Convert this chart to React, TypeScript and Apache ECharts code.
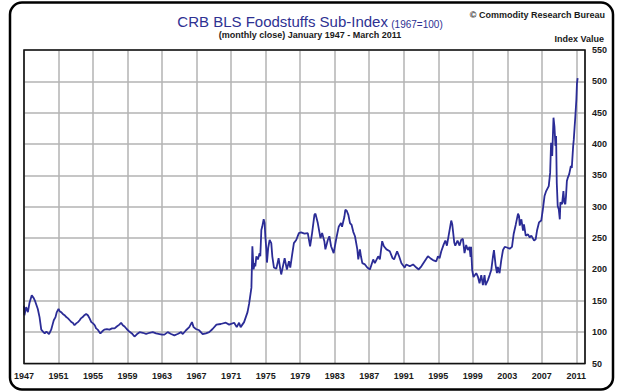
import React, { useEffect, useRef } from "react";
import * as echarts from "echarts";

// Monthly close readings (decimal year) of the CRB BLS Foodstuffs Sub-Index, 1967=100
const years = [
  1947.0, 1947.05, 1947.25, 1947.45, 1947.64, 1947.9, 1948.1, 1948.3, 1948.4, 1948.6, 1948.8,
  1949.0, 1949.2, 1949.4, 1949.6, 1949.9, 1950.15, 1950.35, 1950.45, 1950.65, 1950.8,
  1951.0, 1951.15, 1951.3, 1951.5, 1951.7, 1951.9, 1952.1, 1952.3, 1952.5, 1952.65, 1952.85,
  1953.05, 1953.25, 1953.45, 1953.6, 1953.8, 1954.0, 1954.2, 1954.4, 1954.6, 1954.8,
  1955.0, 1955.2, 1955.35, 1955.55, 1955.85, 1956.05, 1956.3, 1956.6, 1956.9,
  1957.2, 1957.5, 1957.75, 1958.05, 1958.25, 1958.45, 1958.65, 1958.9,
  1959.2, 1959.5, 1959.8, 1960.1, 1960.4, 1960.77, 1961.15, 1961.54, 1961.92,
  1962.3, 1962.7, 1963.0, 1963.27, 1963.65, 1964.04, 1964.42, 1964.8,
  1965.2, 1965.4, 1965.77, 1966.15, 1966.46, 1966.65, 1966.92, 1967.3, 1967.7,
  1968.08, 1968.46, 1968.85, 1969.3, 1969.8, 1970.38, 1970.77, 1971.35, 1971.65, 1971.92,
  1972.1, 1972.5, 1972.7, 1972.9, 1973.08, 1973.35, 1973.46, 1973.54, 1973.6, 1973.73, 1973.8, 1973.92,
  1974.1, 1974.3, 1974.38, 1974.5, 1974.6, 1974.77, 1974.88, 1974.96,
  1975.08, 1975.15, 1975.3, 1975.46, 1975.65, 1975.77, 1975.96, 1976.23, 1976.5, 1976.7, 1976.8,
  1977.0, 1977.2, 1977.46, 1977.7, 1977.85, 1978.04, 1978.27, 1978.54, 1978.85,
  1979.1, 1979.5, 1979.88, 1980.15, 1980.38, 1980.65, 1980.77, 1981.04, 1981.35, 1981.54, 1981.8, 1981.92,
  1982.2, 1982.38, 1982.58, 1982.88, 1983.15, 1983.46, 1983.73, 1983.85, 1984.12, 1984.23, 1984.38, 1984.58, 1984.77, 1984.96,
  1985.15, 1985.35, 1985.62, 1985.73, 1985.92, 1986.04, 1986.2, 1986.5, 1986.77,
  1987.08, 1987.27, 1987.46, 1987.65, 1988.04, 1988.23, 1988.5, 1988.7,
  1989.0, 1989.38, 1989.7, 1989.88, 1990.23, 1990.46, 1990.73,
  1991.1, 1991.3, 1991.7, 1992.08, 1992.46, 1992.73, 1993.04, 1993.42, 1993.8,
  1994.08, 1994.38, 1994.77, 1994.96, 1995.15, 1995.35, 1995.63, 1995.82, 1996.0, 1996.2, 1996.4, 1996.5, 1996.62, 1996.7, 1996.85, 1996.97,
  1997.23, 1997.47, 1997.65, 1997.85, 1998.04, 1998.23, 1998.43, 1998.62, 1998.74, 1998.8, 1998.93,
  1999.08, 1999.4, 1999.6, 1999.78, 1999.98, 2000.17, 2000.36, 2000.48, 2000.75, 2000.95,
  2001.14, 2001.33, 2001.45, 2001.64, 2001.8, 2001.9, 2002.1, 2002.3, 2002.5, 2002.7, 2002.96,
  2003.27, 2003.54, 2003.74, 2003.97, 2004.24, 2004.36, 2004.44, 2004.63, 2004.82, 2004.93,
  2005.13, 2005.4, 2005.6, 2005.78, 2006.1, 2006.28, 2006.44, 2006.67, 2006.93,
  2007.12, 2007.31, 2007.5, 2007.8, 2007.96, 2008.07, 2008.2, 2008.35, 2008.46, 2008.58, 2008.65, 2008.73, 2008.84, 2008.96,
  2009.08, 2009.15, 2009.34, 2009.5, 2009.6, 2009.72, 2009.8, 2009.9, 2010.0, 2010.17, 2010.36, 2010.47,
  2010.63, 2010.7, 2010.8, 2010.87, 2011.0, 2011.07, 2011.15,
];

const values = [
  142, 127, 140, 132, 147, 159, 155, 149, 145, 137, 124,
  104, 101, 98, 101, 97, 104, 114, 119, 124, 132,
  137, 133, 132, 129, 127, 124, 122, 119, 116, 115, 111,
  114, 116, 119, 122, 124, 127, 129, 127, 122, 116,
  114, 111, 106, 104, 98, 101, 104, 105, 104,
  106, 106, 109, 112, 115, 111, 109, 105,
  101, 98, 93, 97, 100, 99, 97, 99, 100,
  98, 97, 96, 96, 100, 97, 95, 97,
  100, 97, 103, 108, 116, 108, 105, 103, 97,
  98, 100, 105, 112, 113, 115, 112, 115, 108, 115,
  108, 116, 124, 132, 145, 171, 237, 215, 200, 210, 205, 221,
  216, 226, 221, 263, 268, 280, 274, 253,
  232, 211, 235, 247, 242, 221, 203, 201, 218, 200, 192,
  205, 218, 200, 213, 203, 221, 242, 247, 258,
  259, 257, 258, 237, 258, 287, 289, 274, 250, 258, 245, 232,
  247, 253, 237, 226, 247, 268, 274, 268, 284, 295, 294, 287, 274, 271,
  260, 253, 232, 216, 232, 221, 210, 208, 203,
  200, 208, 216, 210, 221, 216, 245, 237,
  232, 229, 218, 216, 229, 221, 210,
  203, 208, 205, 208, 203, 200, 205, 213, 221,
  218, 215, 213, 221, 218, 229, 240, 246, 238, 254, 270, 278, 272, 262, 243, 238,
  246, 238, 247, 249, 226, 239, 231, 236, 220, 236, 199,
  188, 194, 188, 178, 191, 175, 191, 175, 183, 191,
  199, 220, 231, 207, 194, 204, 194, 215, 231, 236, 235,
  233, 236, 257, 271, 289, 285, 270, 280, 262, 272,
  254, 256, 251, 254, 246, 248, 262, 275, 278,
  296, 317, 325, 333, 354, 402, 381, 442, 428, 397, 413, 338, 301, 296,
  280, 307, 304, 325, 307, 304, 317, 341, 346, 352, 365, 362,
  397, 407, 428, 442, 471, 497, 505,
];

const xTickYears = [1947, 1951, 1955, 1959, 1963, 1967, 1971, 1975, 1979, 1983, 1987, 1991, 1995, 1999, 2003, 2007, 2011];
const yTicks = [50, 100, 150, 200, 250, 300, 350, 400, 450, 500, 550];

const BASE_YEAR = 1947;
const FONT = "'Liberation Sans', Arial, sans-serif";
const NAVY = "#2e3192";
const GRID = { left: 24, top: 50, width: 561, height: 313.5 };

export default function App() {
  const ref = useRef<HTMLDivElement>(null);

  useEffect(() => {
    if (!ref.current) return;
    const chart = echarts.init(ref.current, null, { renderer: "svg" });
    const data = years.map((y, i) => [y - BASE_YEAR, values[i]]);
    chart.setOption({
      animation: false,
      backgroundColor: "#ffffff",
      grid: { ...GRID, show: false },
      xAxis: {
        type: "value",
        min: 0,
        max: 65,
        interval: 4,
        axisLine: { show: false },
        axisTick: { show: false },
        axisLabel: {
          margin: 8,
          fontFamily: FONT,
          fontSize: 9,
          fontWeight: "bold",
          color: "#1a1a1a",
          formatter: (v: number) => {
            const yr = Math.round(v) + BASE_YEAR;
            return xTickYears.includes(yr) && Math.abs(v - Math.round(v)) < 1e-6 ? String(yr) : "";
          },
        },
        splitLine: { show: true, lineStyle: { color: "#b3b3b3", width: 1.5 } },
      },
      yAxis: {
        type: "value",
        position: "right",
        min: yTicks[0],
        max: yTicks[yTicks.length - 1],
        interval: 50,
        axisLine: { show: false },
        axisTick: { show: false },
        axisLabel: {
          margin: 7,
          fontFamily: FONT,
          fontSize: 9,
          fontWeight: "bold",
          color: "#1a1a1a",
        },
        splitLine: { show: true, lineStyle: { color: "#b3b3b3", width: 1.5 } },
      },
      series: [
        {
          type: "line",
          data,
          showSymbol: false,
          symbol: "none",
          lineStyle: { color: "#2b2c96", width: 1.8 },
          itemStyle: { color: "#2b2c96" },
          z: 5,
        },
      ],
      graphic: [
        {
          type: "rect",
          z: 100,
          shape: { x: GRID.left, y: GRID.top, width: GRID.width, height: GRID.height },
          style: { fill: "none", stroke: "#111", lineWidth: 1.6 },
          silent: true,
        },
        {
          type: "rect",
          z: 100,
          shape: { x: 10, y: 2.5, width: 603, height: 387, r: 12 },
          style: { fill: "none", stroke: "#000", lineWidth: 2.5 },
          silent: true,
        },
        {
          type: "text",
          z: 100,
          x: 310,
          y: 20,
          style: {
            text: "{a|CRB BLS Foodstuffs Sub-Index} {b|(1967=100)}",
            align: "center",
            verticalAlign: "middle",
            rich: {
              a: { fontFamily: FONT, fontSize: 15, fill: NAVY, verticalAlign: "bottom", lineHeight: 18 },
              b: { fontFamily: FONT, fontSize: 10, fill: NAVY, verticalAlign: "bottom", lineHeight: 16 },
            },
          },
        },
        {
          type: "text",
          z: 100,
          x: 310,
          y: 34.5,
          style: {
            text: "(monthly close) January 1947 - March 2011",
            align: "center",
            verticalAlign: "middle",
            fontFamily: FONT,
            fontSize: 9,
            fontWeight: "bold",
            fill: "#1a1a1a",
          },
        },
        {
          type: "text",
          z: 100,
          x: 605,
          y: 15,
          style: {
            text: "© Commodity Research Bureau",
            align: "right",
            verticalAlign: "middle",
            fontFamily: FONT,
            fontSize: 9,
            fontWeight: "bold",
            fill: "#1a1a1a",
          },
        },
        {
          type: "text",
          z: 100,
          x: 604,
          y: 38.5,
          style: {
            text: "Index Value",
            align: "right",
            verticalAlign: "middle",
            fontFamily: FONT,
            fontSize: 9,
            fontWeight: "bold",
            fill: "#1a1a1a",
          },
        },
      ],
    });
    return () => chart.dispose();
  }, []);

  return (
    <div
      ref={ref}
      style={{ position: "absolute", left: 0, top: 0, width: 620, height: 391 }}
    />
  );
}
